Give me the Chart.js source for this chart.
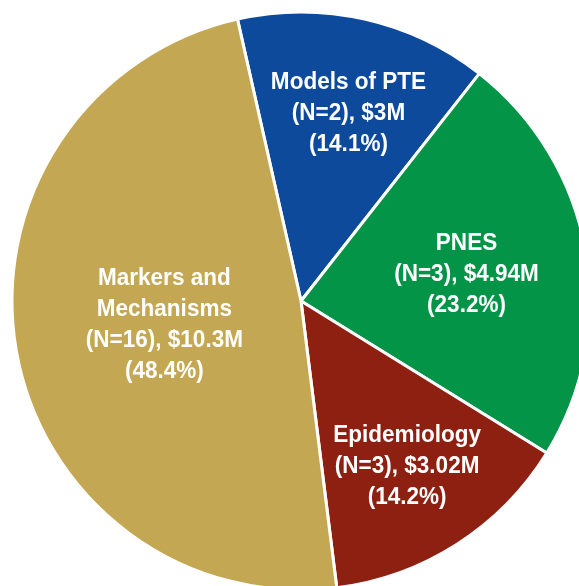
<!DOCTYPE html>
<html>
<head>
<meta charset="utf-8">
<script src="https://cdn.jsdelivr.net/npm/chart.js@4.4.0/dist/chart.umd.min.js"></script>
<style>
  html, body { margin: 0; padding: 0; background: #ffffff; overflow: hidden; width: 579px; height: 586px; }
  #pieChart { position: absolute; left: 0; top: 0; }
</style>
</head>
<body>
<canvas id="pieChart" width="602" height="602"></canvas>
<script>
// Dados do grafico
var categories = ['Models of PTE', 'PNES', 'Epidemiology', 'Markers and Mechanisms'];
var projectCounts = [2, 3, 3, 16];
var fundingMillions = [3, 4.94, 3.02, 10.3];
var fundingLabels = ['$3M', '$4.94M', '$3.02M', '$10.3M'];
var percentLabels = ['14.1%', '23.2%', '14.2%', '48.4%'];
var nameLines = [['Models of PTE'], ['PNES'], ['Epidemiology'], ['Markers and', 'Mechanisms']];

var sliceColors = ['#0d4a9c', '#039447', '#8e2012', '#c4a752'];
// distancia do rotulo ao centro (fracao do raio) e desvio de angulo (graus)
var labelRadius = [0.67, 0.58, 0.68, 0.48];
var labelShift = [1.5, 1, 0, 0];

// Rotulos dentro das fatias
var sliceLabels = {
    id: 'sliceLabels',
    afterDatasetsDraw: function (chart) {
        var ctx = chart.ctx;
        var arcs = chart.getDatasetMeta(0).data;
        ctx.save();
        ctx.fillStyle = '#ffffff';
        ctx.font = 'bold 24.5px "Liberation Sans", Arial, sans-serif';
        ctx.textAlign = 'center';
        ctx.textBaseline = 'middle';
        for (var i = 0; i < arcs.length; i++) {
            var a = arcs[i];
            var mid = (a.startAngle + a.endAngle) / 2 + labelShift[i] * Math.PI / 180;
            var r = a.outerRadius * labelRadius[i];
            var cx = a.x + Math.cos(mid) * r;
            var cy = a.y + Math.sin(mid) * r;
            var lines = nameLines[i].slice();
            lines.push('(N=' + projectCounts[i] + '), ' + fundingLabels[i]);
            lines.push('(' + percentLabels[i] + ')');
            for (var j = 0; j < lines.length; j++) {
                var y = cy + (j - (lines.length - 1) / 2) * 31;
                ctx.save();
                ctx.translate(cx, y);
                ctx.scale(0.92, 1);
                ctx.fillText(lines[j], 0, 0);
                ctx.restore();
            }
        }
        ctx.restore();
    }
};

var ctxP = document.getElementById('pieChart').getContext('2d');
var myPieChart = new Chart(ctxP, {
    type: 'pie',
    data: {
        labels: categories,
        datasets: [{
            data: fundingMillions,
            backgroundColor: sliceColors,
            borderColor: '#ffffff',
            borderWidth: 3,
            radius: 289
        }]
    },
    options: {
        responsive: false,
        animation: false,
        rotation: -12.7,
        plugins: {
            legend: { display: false },
            tooltip: { enabled: false }
        }
    },
    plugins: [sliceLabels]
});
</script>
</body>
</html>
